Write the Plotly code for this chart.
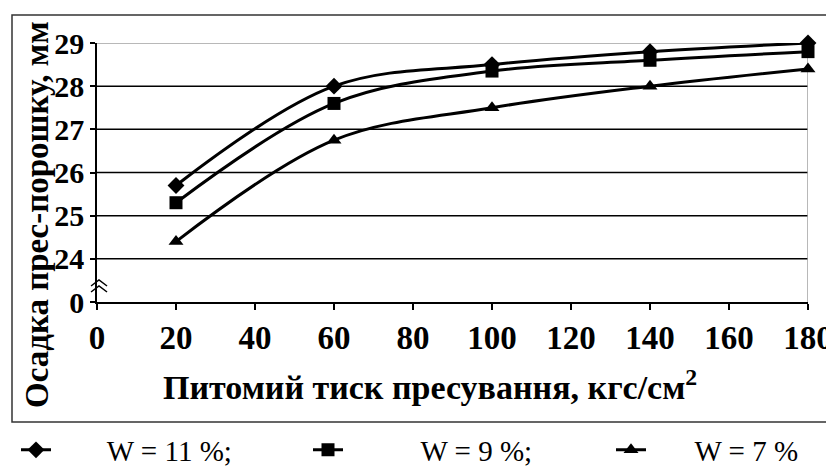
import plotly.graph_objects as go

# ---- data ----
pressure = [20, 60, 100, 140, 180]
w11 = [25.7, 28.0, 28.5, 28.8, 29.0]
w9 = [25.3, 27.6, 28.35, 28.6, 28.8]
w7 = [24.4, 26.75, 27.5, 28.0, 28.4]

series_names = ["W = 11 %;", "W = 9 %;", "W = 7 %"]
series_symbols = ["diamond", "square", "triangle-up"]

x_ticks = [0, 20, 40, 60, 80, 100, 120, 140, 160, 180]
y_tickvals = [23, 24, 25, 26, 27, 28, 29]
y_ticktext = ["0", "24", "25", "26", "27", "28", "29"]

x_title = "Питомий тиск пресування, кгс/см<sup>2</sup>"
y_title = "Осадка прес-порошку, мм"

# ---- layout constants (pixels) ----
W, H = 826, 468
L, R, T, B = 97, 18, 43, 166
PW = W - L - R
PH = H - T - B


def px_x(p):
    return (p - L) / PW


def px_y(p):
    return (H - B - p) / PH


legend_ids = ["legend", "legend2", "legend3"]
legend_left_px = [16, 308, 611]
legend_lead = [7, 10, 6]

fig = go.Figure()
for name, vals, sym, lid, nlead in zip(series_names, [w11, w9, w7], series_symbols,
                                      legend_ids, legend_lead):
    fig.add_trace(go.Scatter(
        x=pressure, y=vals, name="\u00a0" * nlead + name,
        mode="lines+markers",
        line=dict(color="black", width=3, shape="spline", smoothing=1.0),
        marker=dict(symbol=sym, size=13, color="black"),
        cliponaxis=False, legend=lid,
    ))

shapes = []
for v in y_tickvals[1:]:
    shapes.append(dict(type="line", xref="x", yref="y", x0=x_ticks[0], x1=x_ticks[-1],
                       y0=v, y1=v, layer="below",
                       line=dict(color="#a0a0a0" if v == y_tickvals[-1] else "black", width=1.5)))
shapes.append(dict(type="line", xref="x", yref="y", x0=x_ticks[-1], x1=x_ticks[-1],
                   y0=y_tickvals[0], y1=y_tickvals[-1], layer="below",
                   line=dict(color="#a0a0a0", width=1.5)))
shapes.append(dict(type="rect", xref="paper", yref="paper",
                   x0=px_x(12), x1=px_x(840), y0=px_y(15), y1=px_y(422),
                   line=dict(color="#333333", width=1.5), layer="below"))
for dy in (0, 6):
    shapes.append(dict(type="path", xref="paper", yref="paper",
                       path="M {:.4f},{:.4f} L {:.4f},{:.4f} L {:.4f},{:.4f}".format(
                           px_x(91), px_y(286 + dy), px_x(99), px_y(280 + dy), px_x(107), px_y(286 + dy)),
                       line=dict(color="black", width=1.5)))

legend_style = dict(orientation="h", xanchor="left", y=px_y(450), yanchor="middle",
                    font=dict(family="Liberation Serif", size=29, color="black"),
                    bgcolor="rgba(0,0,0,0)", itemwidth=30)

fig.update_layout(
    width=W, height=H,
    margin=dict(l=L, r=R, t=T, b=B, autoexpand=False),
    paper_bgcolor="white", plot_bgcolor="white",
    font=dict(family="Liberation Serif", color="black"),
    shapes=shapes,
    showlegend=True,
    annotations=[
        dict(text="<b>" + x_title + "</b>", xref="paper", yref="paper",
             x=px_x(430), y=px_y(385), xanchor="center", yanchor="middle", showarrow=False,
             font=dict(family="Liberation Serif", size=34, color="black")),
        dict(text="<b>" + y_title + "</b>", xref="paper", yref="paper",
             x=px_x(37), y=px_y(215), xanchor="center", yanchor="middle", showarrow=False,
             textangle=-90,
             font=dict(family="Liberation Serif", size=33, color="black")),
    ],
)
for lid, lx in zip(legend_ids, legend_left_px):
    fig.update_layout({lid: dict(legend_style, x=px_x(lx))})

fig.update_xaxes(range=[x_ticks[0], x_ticks[-1]], tickvals=x_ticks,
                 showgrid=False, zeroline=False, showline=True, linecolor="black", linewidth=1.5,
                 ticks="outside", ticklen=6, tickcolor="black", tickwidth=1.5,
                 ticklabeloverflow="allow",
                 tickfont=dict(family="Liberation Serif", size=33, color="black", weight="bold"))
fig.update_yaxes(range=[y_tickvals[0], y_tickvals[-1]], tickvals=y_tickvals, ticktext=y_ticktext,
                 showgrid=False, zeroline=False, showline=True, linecolor="black", linewidth=1.5,
                 ticks="outside", ticklen=5, tickcolor="black", tickwidth=1.5,
                 tickfont=dict(family="Liberation Serif", size=30, color="black", weight="bold"))

fig.write_html("out.html", config={"displayModeBar": False},
               post_script="document.body.style.margin='0';")
